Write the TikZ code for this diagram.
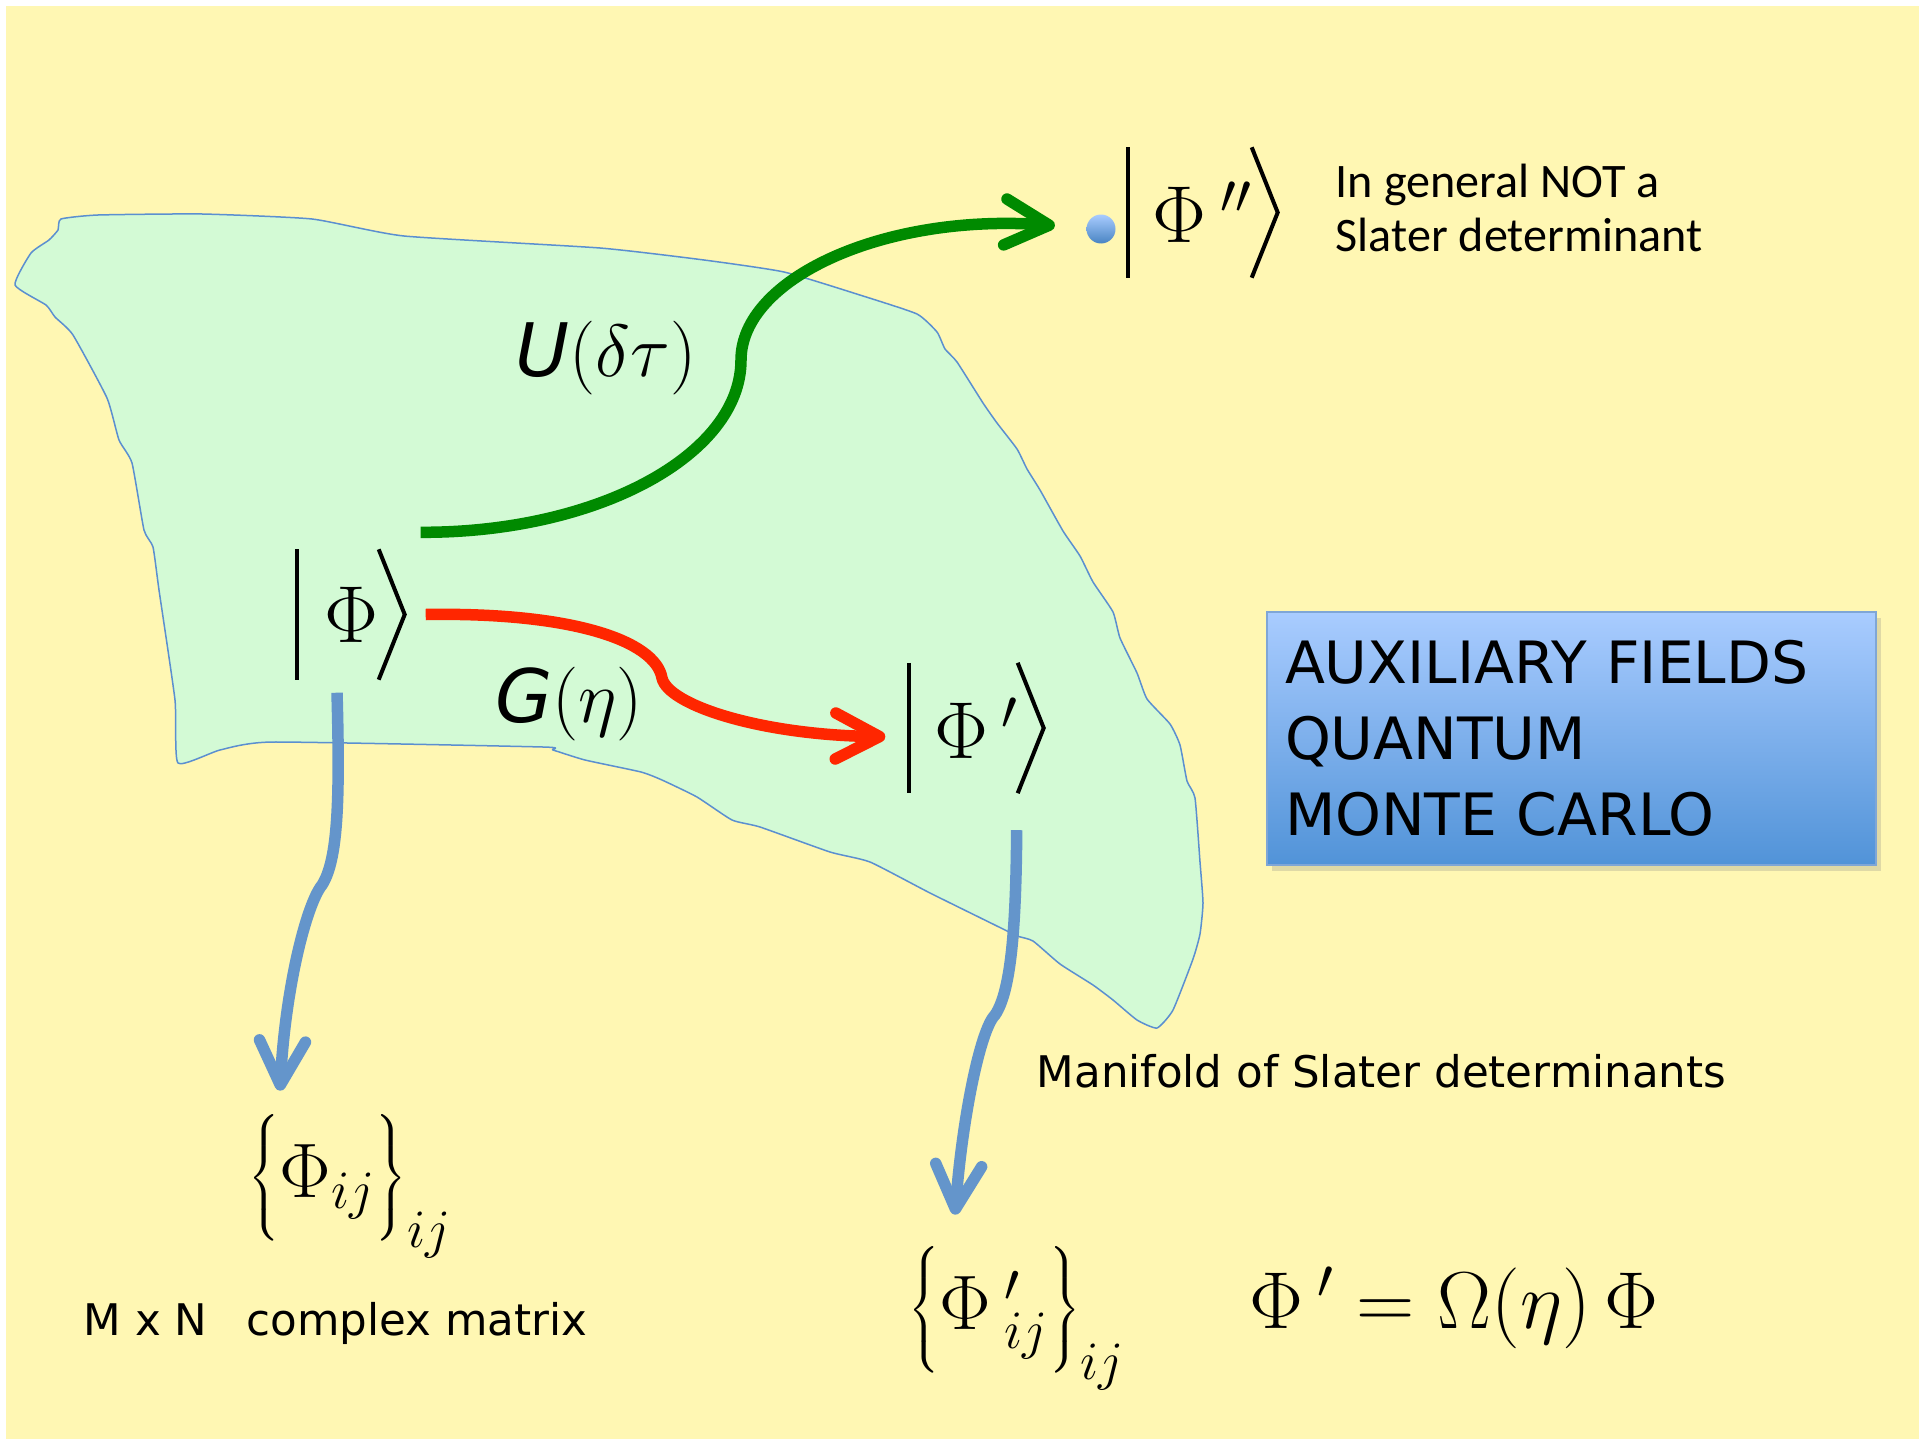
\RequirePackage{fix-cm}
\documentclass[tikz,border=0pt]{standalone}
\usepackage{fontspec}
\newfontfamily\bdfont{DejaVu Sans}
\newfontfamily\calfont{Carlito}
\usepackage{tikz}
\usetikzlibrary{arrows.meta,shadows}
\definecolor{fond}{HTML}{FFF7B3}
\definecolor{vari}{HTML}{D3FAD5}
\definecolor{varb}{HTML}{5B8FD0}
\definecolor{vert}{HTML}{008A00}
\definecolor{rouge}{HTML}{FF2600}
\definecolor{bleu}{HTML}{6495CB}
\definecolor{boxH}{HTML}{A9CCFF}
\definecolor{boxB}{HTML}{5193D8}
\definecolor{boxL}{HTML}{7FA6D6}
% bar and angle of a ket around node #1
\newcommand{\ketbr}[1]{%
  \draw[ketln] (#1.north west) -- (#1.south west);
  \draw[ketln] ([xshift=-2.6mm]#1.north east) -- (#1.east) -- ([xshift=-2.6mm]#1.south east);}
\tikzset{
  ket/.style={inner sep=0pt, minimum height=12.9mm, minimum width=#1, font=\fontsize{23}{27}\selectfont},
  ketln/.style={line width=0.4mm},
  fl/.style={line width=1.15mm, draw=#1, -{Straight Barb[length=4.4mm, width=4.6mm, round]}},
  manif/.style={draw=varb, line width=0.15mm, fill=vari, line join=round},
  lbl/.style={inner sep=0pt, font=\fontsize{21}{25}\selectfont},
  bd/.style={inner sep=0pt, font=\bdfont\fontsize{12.4}{15}\selectfont},
  note/.style={inner sep=0pt, align=left, font=\calfont\fontsize{13.7}{15.6}\selectfont},
  dotb/.style={circle, inner sep=0pt, minimum size=2.9mm, top color=boxH, bottom color=boxB!90!black},
  boite/.style={rectangle, draw=boxL, line width=0.3pt, top color=boxH, bottom color=boxB,
                minimum width=60.9mm, minimum height=25.3mm, text width=57.3mm, align=left,
                font=\bdfont\fontsize{16.6}{21.6}\selectfont,
                drop shadow={opacity=0.25, shadow xshift=0.5mm, shadow yshift=-0.6mm}},
}
\begin{document}
\begin{tikzpicture}[x=0.1mm, y=-0.1mm]
  \useasboundingbox (0,0) rectangle (1924,1445);
  \fill[white] (0,0) rectangle (1924,1445);
  \fill[fond] (6,6) rectangle (1919,1439);
  % the manifold
  \draw[manif] plot[smooth cycle, tension=0.3] coordinates {
    (61,219) (98,215) (202,214) (312,219) (404,236) (600,248) (704,260) (784,272)
    (863,296) (917,314) (937,332) (945,349) (957,362) (983,403) (997,423) (1017,449)
    (1027,469) (1040,490) (1063,531) (1080,556) (1093,582) (1113,612) (1120,638)
    (1137,673) (1147,699) (1170,724) (1180,745) (1187,781) (1195,798) (1200,862)
    (1203,903) (1200,934) (1193,959) (1173,1010) (1157,1028) (1137,1020) (1113,1000)
    (1093,985) (1060,964) (1033,941) (1017,936) (1003,929) (930,893) (870,862)
    (830,852) (760,827) (732,820) (697,797) (662,780) (641,772) (585,760) (553,750)
    (543,747) (273,742) (220,750) (178,763) (175,700) (159,590) (153,547) (144,530)
    (132,463) (119,440) (107,398) (73,335) (55,317) (46,305) (15,285) (31,253)
    (49,240) (58,230)};
  % kets
  \node[ket=10.6mm] (kA) at (351,614.5) {$\Phi$};
  \node[ket=13.3mm] (kB) at (976.5,728) {$\Phi\,'$};
  \node[ket=14.8mm] (kC) at (1203,212.5) {$\Phi\,''$};
  \ketbr{kA}
  \ketbr{kB}
  \ketbr{kC}
  \node[dotb] (pt) at (1101,229) {};
  \node[note, anchor=north west] (nt) at (1335,163) {In general NOT a\\Slater determinant};
  % labels
  \node[lbl] (ud) at (606,358) {{\bdfont\itshape U}$(\delta\tau)$};
  \node[lbl] (ge) at (569,704) {{\bdfont\itshape G}$(\eta)$};
  \node[boite] (afqmc) at (1571.5,738.5) {AUXILIARY FIELDS\\QUANTUM\\MONTE CARLO};
  \node[bd, anchor=base west] (mf) at (1036,1087) {Manifold of Slater determinants};
  \node[bd, anchor=base west] (mxn) at (83,1335) {M x N\hspace{0.9em}complex matrix};
  % matrices
  \node[lbl, font=\fontsize{22}{26}\selectfont] (mA) at (350,1186)
    {$\left\{\Phi_{ij}\rule[-4.7mm]{0pt}{13mm}\right\}_{ij}$};
  \node[lbl, font=\fontsize{22}{26}\selectfont] (mB) at (1017,1318)
    {$\left\{\Phi\,'_{ij}\rule[-4.7mm]{0pt}{13mm}\right\}_{ij}$};
  \node[lbl, font=\fontsize{23}{27}\selectfont] (eq) at (1454,1308) {$\Phi\,' = \Omega(\eta)\,\Phi$};
  % arrows
  \draw[fl=vert, shorten >=3.1mm] ([shift={(1.6mm,1.7mm)}]kA.north east)
    .. controls (597,533) and (741,455) .. (741,360)
    .. controls (741,279) and (883,213) .. (pt);
  \draw[fl=rouge, shorten >=2.4mm] ([xshift=2.1mm]kA.east)
    .. controls (570,612) and (655,640) .. (662,678)
    .. controls (668,705) and (760,735) .. ([yshift=-0.9mm]kB.west);
  \draw[fl=bleu] ([shift={(-1.4mm,-1.3mm)}]kA.south)
    .. controls (340,800) and (338,860) .. (322,885)
    .. controls (306,905) and (285,990) .. ([shift={(-7mm,2.3mm)}]mA.north);
  \draw[fl=bleu] ([shift={(-2.7mm,-3.7mm)}]kB.south east)
    .. controls (1016,920) and (1012,990) .. (995,1015)
    .. controls (980,1030) and (962,1120) .. ([shift={(-6.2mm,3.1mm)}]mB.north);
\end{tikzpicture}
\end{document}
